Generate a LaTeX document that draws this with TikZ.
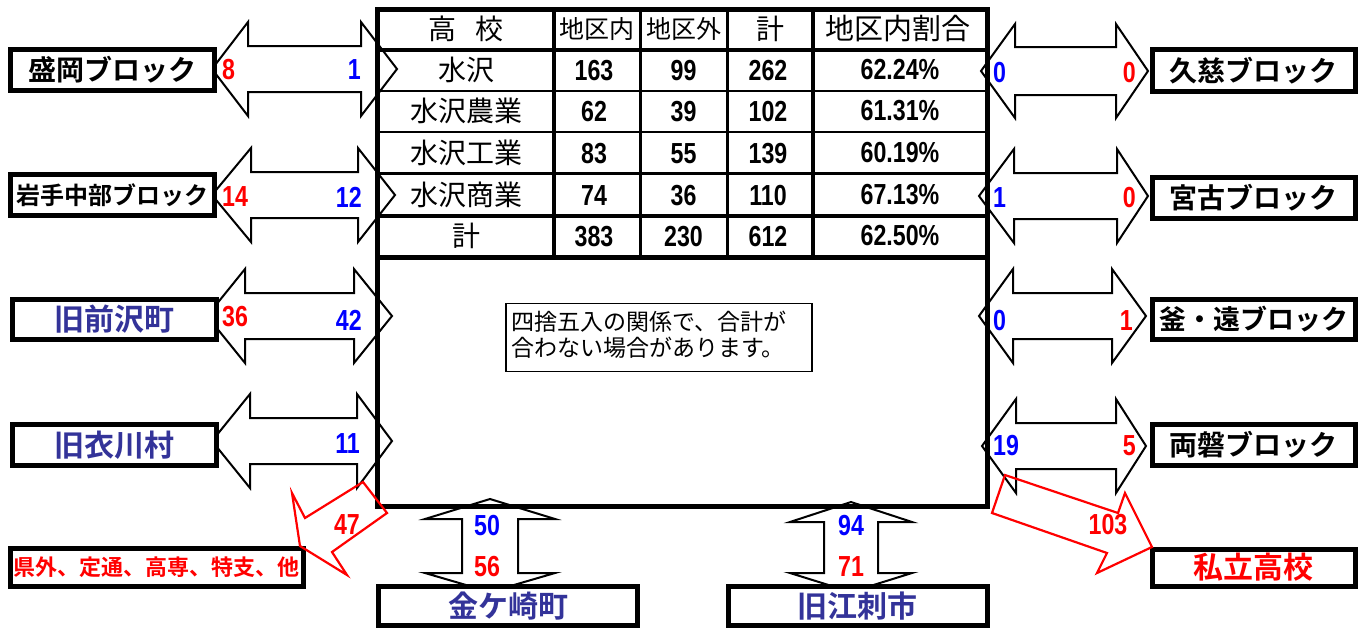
\documentclass[tikz,border=0pt]{standalone}
\usepackage{fontspec}
\newfontfamily\jp{Noto Sans CJK JP}[BoldFont={Noto Sans CJK JP Bold}]
\newfontfamily\numf{Liberation Sans}[FakeStretch=0.8]
\definecolor{dblue}{HTML}{333399}
\definecolor{rd}{HTML}{FF0000}
\definecolor{bl}{HTML}{0000FF}
\tikzset{
  blk/.style={draw=black, line width=2pt, fill=white, line join=miter},
  redarr/.style={draw=rd, line width=2.2pt, line join=miter},
  lbox/.style={draw=black, line width=5pt, fill=white, inner sep=0pt},
  lab/.style={font=\jp\bfseries\fontsize{#1}{#1}\selectfont},
  tj/.style={font=\jp\fontsize{#1}{#1}\selectfont, inner sep=0pt},
  nm/.style={font=\numf\bfseries\fontsize{29}{31}\selectfont, inner sep=0pt},
}
% horizontal block double arrow: tipL baseL baseR tipR yc headhalf shafthalf
\newcommand\hdarr[7]{%
  \draw[blk] (#1,#5) -- (#2,#5-#6) -- (#2,#5-#7) -- (#3,#5-#7) -- (#3,#5-#6) -- (#4,#5)
    -- (#3,#5+#6) -- (#3,#5+#7) -- (#2,#5+#7) -- (#2,#5+#6) -- cycle;}
% vertical block double arrow: xc tipT baseT baseB tipB headhalf shafthalf
\newcommand\vdarr[7]{%
  \draw[blk] (#1,#2) -- (#1+#6,#3) -- (#1+#7,#3) -- (#1+#7,#4) -- (#1+#6,#4) -- (#1,#5)
    -- (#1-#6,#4) -- (#1-#7,#4) -- (#1-#7,#3) -- (#1-#6,#3) -- cycle;}
\begin{document}
\begin{tikzpicture}[x=1pt,y=-1pt]
\useasboundingbox (0,0) rectangle (1361,630);

% block arrows (behind boxes)
\hdarr{212}{248}{361}{397}{69}{47}{23}
\hdarr{212}{251}{358}{395}{195}{47}{23}
\hdarr{207}{245}{354}{392}{316}{47}{23}
\hdarr{212}{250}{357}{392}{441}{47}{23}
\hdarr{981}{1015}{1116}{1148}{71}{47}{24}
\hdarr{979}{1014}{1117}{1148}{196}{47}{23}
\hdarr{979}{1013}{1112}{1146}{316}{47}{23}
\hdarr{982}{1016}{1116}{1146}{446}{47}{23}
\vdarr{490}{499}{519}{573}{592}{65}{28}
\vdarr{851}{502}{522}{573}{592}{61}{27}

% main box and table
\node[draw=black, line width=5pt, minimum width=609.5pt, minimum height=497.5pt, inner sep=0pt] (main) at (682.25,257.75) {};
\draw[line width=4pt] (377.5,49.5) -- (987,49.5);
\draw[line width=2pt] (377.5,90.5) -- (987,90.5);
\draw[line width=2pt] (377.5,132) -- (987,132);
\draw[line width=3pt] (377.5,173.5) -- (987,173.5);
\draw[line width=4pt] (377.5,215.5) -- (987,215.5);
\draw[line width=5pt] (377.5,257) -- (987,257);
\draw[line width=4pt] (554,9) -- (554,257);
\draw[line width=3pt] (640,9) -- (640,257);
\draw[line width=3pt] (727,9) -- (727,257);
\draw[line width=4pt] (813,9) -- (813,257);

% header
\node[tj=28] (h1) at (466,29) {高\hspace{20pt}校};
\node[tj=25] (h2) at (597,29) {地区内};
\node[tj=25] (h3) at (683.5,29) {地区外};
\node[tj=28] (h4) at (770,29) {計};
\node[tj=29] (h5) at (898,29) {地区内割合};
% rows
\node[tj=28] (r1) at (466,70) {水沢};
\node[tj=28] (r2) at (466,111) {水沢農業};
\node[tj=28] (r3) at (466,153) {水沢工業};
\node[tj=28] (r4) at (466,194.5) {水沢商業};
\node[tj=28] (r5) at (466,236) {計};
\node[nm] (a1) at (594,71) {163};
\node[nm] (b1) at (683.5,71) {99};
\node[nm] (c1) at (768,71) {262};
\node[nm] (d1) at (900,70) {62.24\%};
\node[nm] (a2) at (594,112) {62};
\node[nm] (b2) at (683.5,112) {39};
\node[nm] (c2) at (768,112) {102};
\node[nm] (d2) at (900,111) {61.31\%};
\node[nm] (a3) at (594,154) {83};
\node[nm] (b3) at (683.5,154) {55};
\node[nm] (c3) at (768,154) {139};
\node[nm] (d3) at (900,153) {60.19\%};
\node[nm] (a4) at (594,195.5) {74};
\node[nm] (b4) at (683.5,195.5) {36};
\node[nm] (c4) at (768,195.5) {110};
\node[nm] (d4) at (900,194.5) {67.13\%};
\node[nm] (a5) at (594,237) {383};
\node[nm] (b5) at (683.5,237) {230};
\node[nm] (c5) at (768,237) {612};
\node[nm] (d5) at (900,236) {62.50\%};

% note
\node[draw=black, line width=1.8pt, minimum width=306pt, minimum height=68pt, inner sep=0pt] (note) at (659,337.5) {};
\node[anchor=west, align=left, inner sep=0pt, font=\jp\fontsize{23}{26}\selectfont] (notetext) at (511,335) {四捨五入の関係で、合計が\\合わない場合があります。};

% left boxes
\node[lbox, minimum width=204pt, minimum height=41pt, lab=28] (morioka) at (112.5,70) {盛岡ブロック};
\node[lbox, minimum width=204pt, minimum height=41pt, lab=24] (iwate) at (112.5,195) {岩手中部ブロック};
\node[lbox, minimum width=204pt, minimum height=40pt, lab=30, text=dblue] (maesawa) at (114,319.5) {旧前沢町};
\node[lbox, minimum width=204pt, minimum height=41pt, lab=30, text=dblue] (koromo) at (114,445) {旧衣川村};
\node[lbox, minimum width=292.5pt, minimum height=38pt, lab=22, text=rd] (kengai) at (156.75,567.5) {県外、定通、高専、特支、他};
% right boxes
\node[lbox, minimum width=203pt, minimum height=41.5pt, lab=28] (kuji) at (1253.5,70.5) {久慈ブロック};
\node[lbox, minimum width=203pt, minimum height=41.5pt, lab=28] (miyako) at (1253.5,198) {宮古ブロック};
\node[lbox, minimum width=203pt, minimum height=40pt, lab=27] (kamaishi) at (1253.5,319.5) {釜・遠ブロック};
\node[lbox, minimum width=203pt, minimum height=41pt, lab=28] (ryoban) at (1253.5,445) {両磐ブロック};
\node[lbox, minimum width=203pt, minimum height=37pt, lab=30, text=rd] (shiritsu) at (1253.5,567.5) {私立高校};
% bottom boxes
\node[lbox, minimum width=259.5pt, minimum height=39pt, lab=30, text=dblue] (kanegasaki) at (508,606) {金ケ崎町};
\node[lbox, minimum width=259pt, minimum height=39pt, lab=30, text=dblue] (esashi) at (857.5,606) {旧江刺市};

% numbers on arrows
\node[nm, text=rd, anchor=west] (n8) at (222,70) {8};
\node[nm, text=rd, anchor=west] (n14) at (222,197) {14};
\node[nm, text=rd, anchor=west] (n36) at (222,317) {36};
\node[nm, text=bl, anchor=east] (n1) at (361,70) {1};
\node[nm, text=bl, anchor=east] (n12) at (362,197) {12};
\node[nm, text=bl, anchor=east] (n42) at (362,320) {42};
\node[nm, text=bl, anchor=east] (n11) at (360,444) {11};
\node[nm, text=bl, anchor=west] (m0a) at (993,73) {0};
\node[nm, text=bl, anchor=west] (m1a) at (993,198) {1};
\node[nm, text=bl, anchor=west] (m0b) at (993,321) {0};
\node[nm, text=bl, anchor=west] (m19) at (993,446) {19};
\node[nm, text=rd, anchor=east] (k0a) at (1136,73) {0};
\node[nm, text=rd, anchor=east] (k0b) at (1136,198) {0};
\node[nm, text=rd, anchor=east] (k1) at (1133,321) {1};
\node[nm, text=rd, anchor=east] (k5) at (1136,446) {5};
\node[nm, text=bl] (v50) at (487,526) {50};
\node[nm, text=rd] (v56) at (487,567) {56};
\node[nm, text=bl] (v94) at (851,526) {94};
\node[nm, text=rd] (v71) at (851,567) {71};

% red arrows
\draw[redarr] (363,482) -- (305,518) -- (292,493) -- (300,546) -- (347,575) -- (332,552) -- (387,513) -- cycle;
\draw[redarr] (1005,475) -- (1118,513) -- (1125,493) -- (1152,547) -- (1097,573) -- (1107,553) -- (992,513) -- cycle;
\node[nm, text=rd] (r47) at (347,525) {47};
\node[nm, text=rd] (r103) at (1108,525) {103};
\end{tikzpicture}
\end{document}
